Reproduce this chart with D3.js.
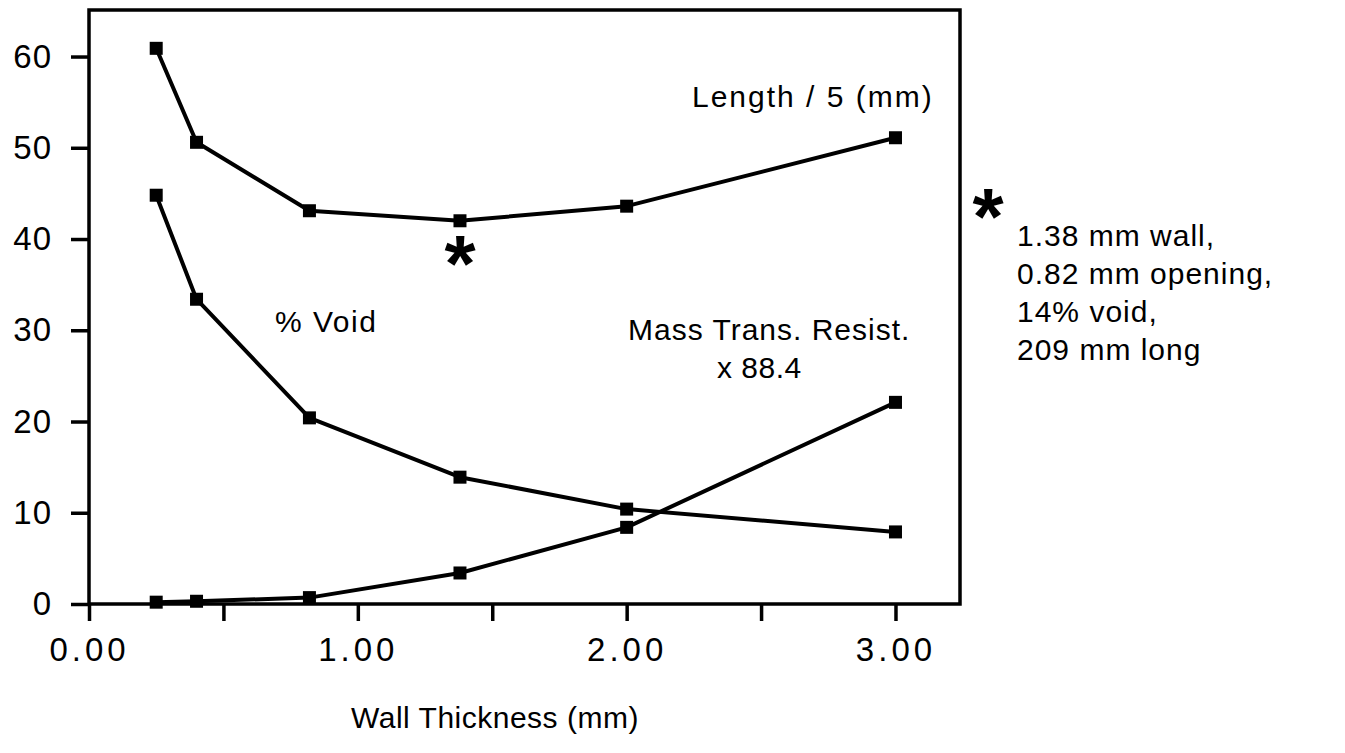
<!DOCTYPE html>
<html>
<head>
<meta charset="utf-8">
<script src="https://cdn.jsdelivr.net/npm/d3@7"></script>
<style>
  body { margin: 0; background: #fff; }
  svg { display: block; }
  text { font-family: "Liberation Sans", Arial, Helvetica, sans-serif; fill: #000; }
  .axis path, .axis line { stroke: #000; stroke-width: 3.5; }
  .series { fill: none; stroke: #000; stroke-width: 4; stroke-linejoin: round; }
</style>
</head>
<body>
<svg id="chart" width="1345" height="753"></svg>
<script>
// wall thickness (mm)
const wall = [0.25, 0.40, 0.82, 1.38, 2.00, 3.00];
// measured series
const lengthOver5 = [60.9, 50.6, 43.1, 42.0, 43.6, 51.1];
const pctVoid = [44.8, 33.4, 20.4, 13.9, 10.4, 7.9];
const massTrans = [0.2, 0.3, 0.7, 3.4, 8.4, 22.1];

const yTicks = [0, 10, 20, 30, 40, 50, 60];
const xTicks = [0, 0.5, 1, 1.5, 2, 2.5, 3];
const noteLines = ["1.38 mm wall,", "0.82 mm opening,", "14% void,", "209 mm long"];

const svg = d3.select("#chart");

const x = d3.scaleLinear().domain([0, 3.24]).range([89, 960]);
const y = d3.scaleLinear().domain([0, 65.1]).range([604, 10]);

// frame
svg.append("rect")
    .attr("x", x(0)).attr("y", y(65.1))
    .attr("width", x(3.24) - x(0)).attr("height", y(0) - y(65.1))
    .attr("fill", "none").attr("stroke", "#000").attr("stroke-width", 3.5);

const yAxis = svg.append("g")
    .attr("class", "axis")
    .attr("transform", `translate(${x(0)},0)`)
    .call(d3.axisLeft(y).tickValues(yTicks).tickSize(18).tickPadding(19).tickFormat(d3.format("d")));
yAxis.select(".domain").remove();
yAxis.selectAll("text").style("font-size", "33px").style("letter-spacing", "1px");

const xAxis = svg.append("g")
    .attr("class", "axis")
    .attr("transform", `translate(0,${y(0)})`)
    .call(d3.axisBottom(x).tickValues(xTicks).tickSize(17).tickPadding(17)
        .tickFormat(d => Number.isInteger(d) ? d3.format(".2f")(d) : ""));
xAxis.select(".domain").remove();
xAxis.selectAll("text").style("font-size", "33px").style("letter-spacing", "4px");

const line = d3.line().x((d, i) => x(wall[i])).y(d => y(d));

[lengthOver5, pctVoid, massTrans].forEach(vals => {
    svg.append("path").datum(vals).attr("class", "series").attr("d", line);
    svg.selectAll(null)
        .data(vals)
        .enter().append("rect")
        .attr("x", (d, i) => x(wall[i]) - 6.5).attr("y", d => y(d) - 6.5)
        .attr("width", 13).attr("height", 13)
        .attr("fill", "#000");
});

// labels
svg.append("text").attr("x", 692).attr("y", 107)
    .style("font-size", "30px").style("letter-spacing", "2px").text("Length / 5 (mm)");
svg.append("text").attr("x", 275).attr("y", 332)
    .style("font-size", "30px").style("letter-spacing", "1.5px").text("% Void");
svg.append("text").attr("x", 628).attr("y", 340)
    .style("font-size", "30px").style("letter-spacing", "1px").text("Mass Trans. Resist.");
svg.append("text").attr("x", 717).attr("y", 378)
    .style("font-size", "30px").style("letter-spacing", "0.5px").text("x 88.4");

svg.append("text").attr("x", x(1.38)).attr("y", 291).attr("text-anchor", "middle")
    .style("font-size", "80px").style("font-weight", "bold").text("*");
svg.append("text").attr("x", 988).attr("y", 244).attr("text-anchor", "middle")
    .style("font-size", "80px").style("font-weight", "bold").text("*");

svg.append("g").selectAll("text")
    .data(noteLines)
    .enter().append("text")
    .attr("x", 1017).attr("y", (d, i) => 246 + i * 38)
    .style("font-size", "30px").style("letter-spacing", "1px")
    .text(d => d);

svg.append("text").attr("x", 495).attr("y", 728).attr("text-anchor", "middle")
    .style("font-size", "30px").style("letter-spacing", "0.5px").text("Wall Thickness (mm)");
</script>
</body>
</html>
